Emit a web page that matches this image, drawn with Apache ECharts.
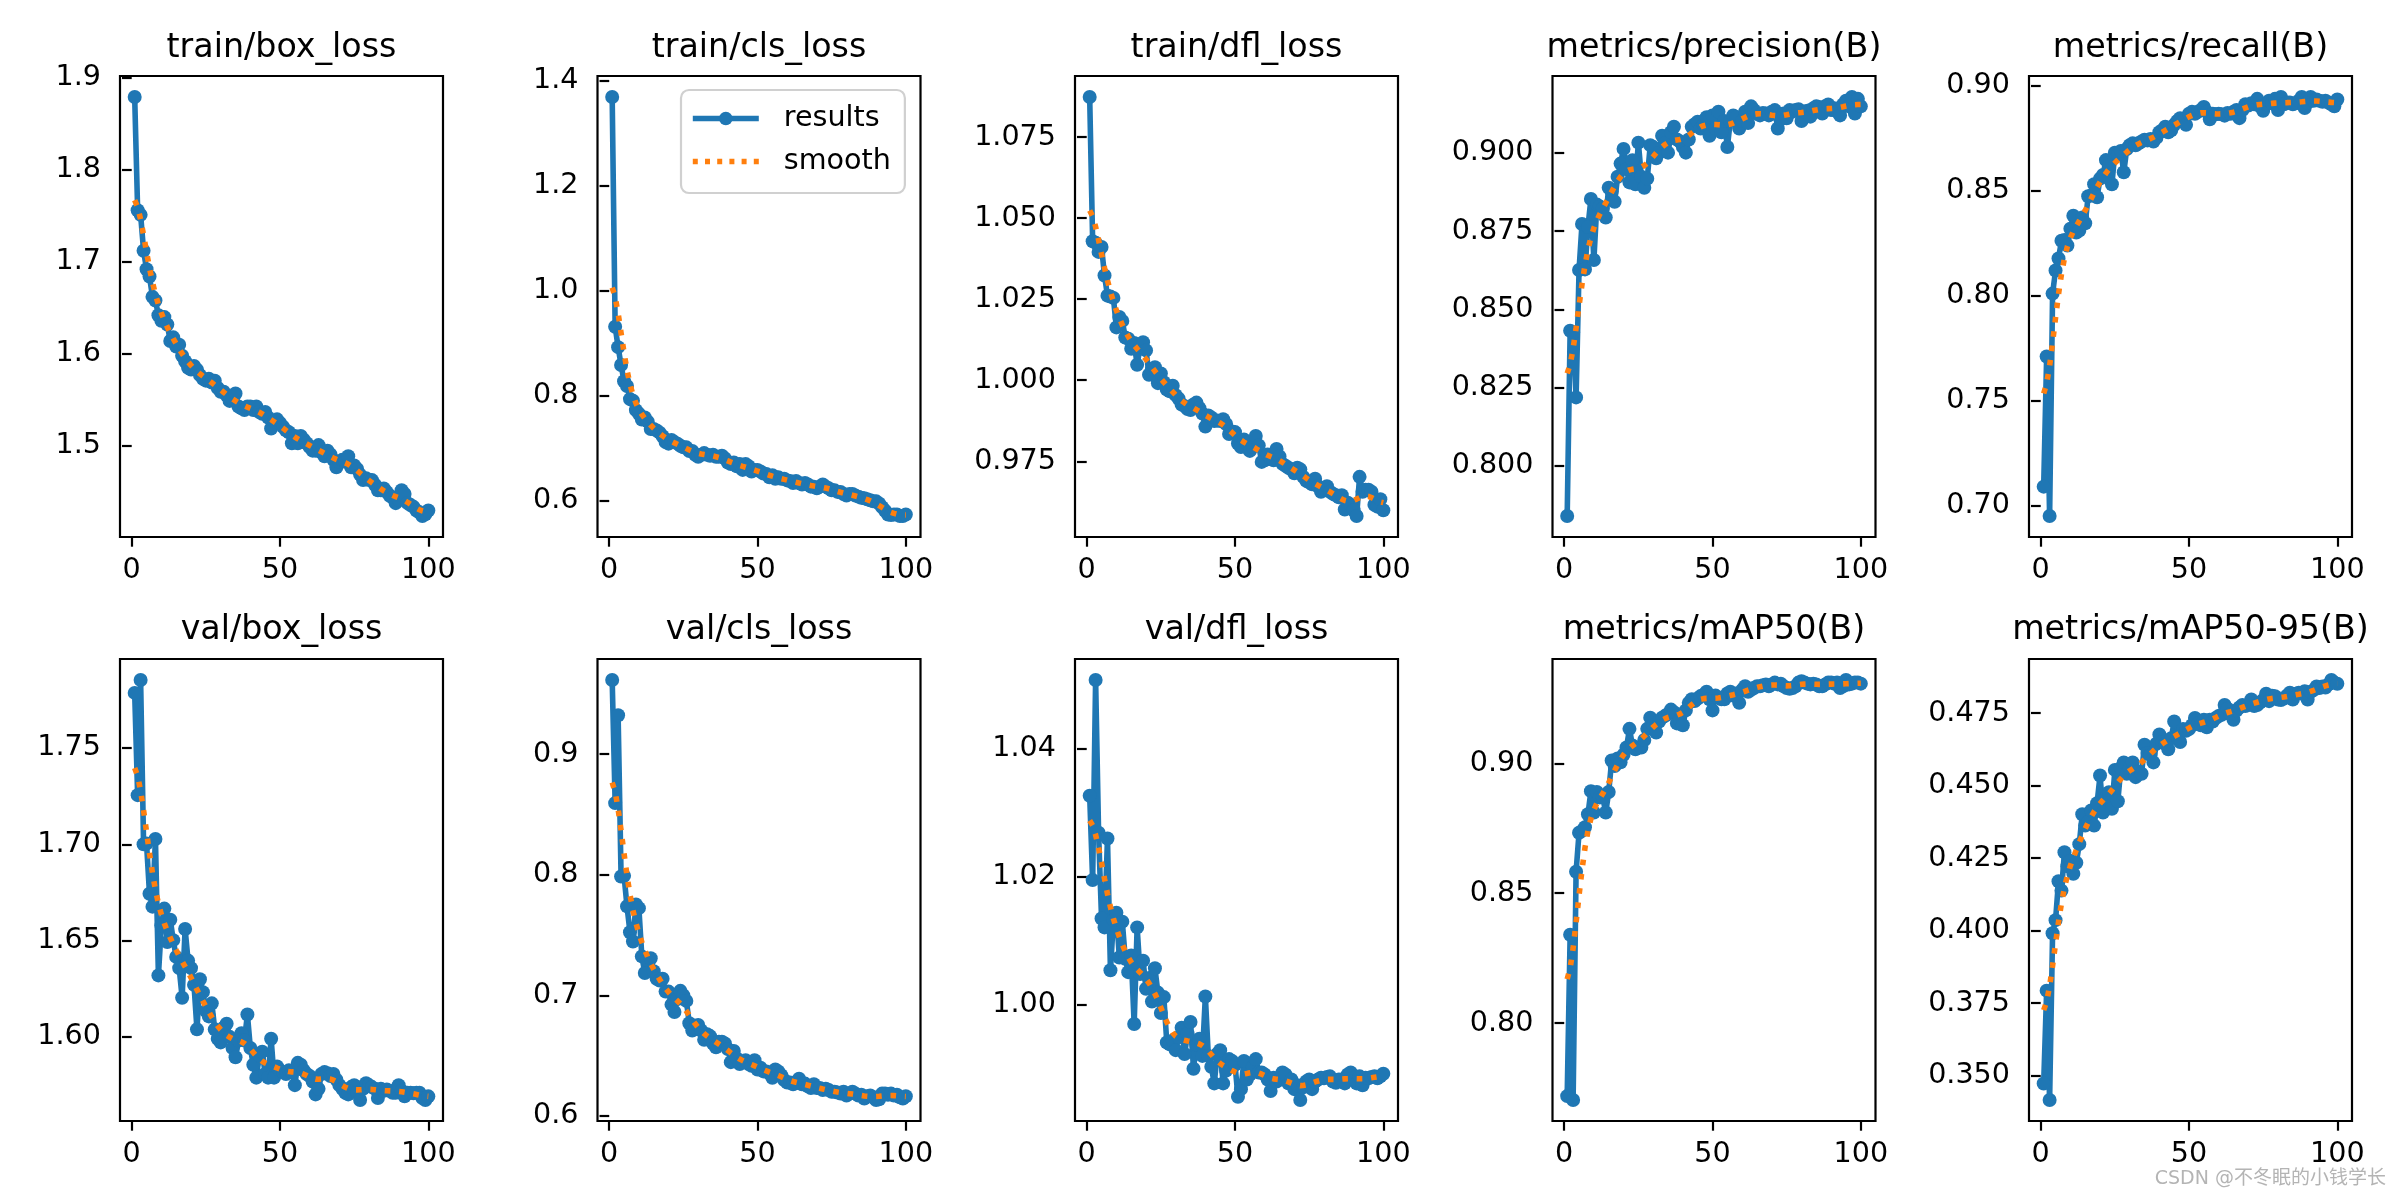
<!DOCTYPE html>
<html><head><meta charset="utf-8">
<script src="https://cdn.jsdelivr.net/npm/echarts@6/dist/echarts.min.js"></script>
<style>html,body{margin:0;padding:0;background:#fff}#c{width:2400px;height:1200px}</style>
</head><body><div id="c"></div>
<script>
// ---------- titles ----------
const titles = ['train/box_loss','train/cls_loss','train/dfl_loss','metrics/precision(B)','metrics/recall(B)',
                'val/box_loss','val/cls_loss','val/dfl_loss','metrics/mAP50(B)','metrics/mAP50-95(B)'];

// ---------- series values (epochs 1..100) ----------
const trainBox = [1.879,1.756,1.751,1.712,1.692,1.684,1.662,1.658,1.642,1.636,1.640,1.632,1.614,1.618,1.608,1.610,1.598,1.592,1.585,1.583,
1.587,1.583,1.577,1.573,1.571,1.573,1.569,1.571,1.563,1.559,1.559,1.555,1.549,1.551,1.557,1.543,1.541,1.539,1.543,1.543,
1.539,1.543,1.537,1.535,1.537,1.531,1.519,1.527,1.529,1.525,1.521,1.517,1.515,1.503,1.511,1.503,1.511,1.507,1.503,1.499,
1.495,1.495,1.501,1.493,1.489,1.495,1.491,1.485,1.477,1.483,1.485,1.483,1.489,1.477,1.479,1.475,1.469,1.463,1.465,1.463,
1.463,1.458,1.452,1.452,1.454,1.450,1.446,1.444,1.438,1.442,1.452,1.448,1.438,1.436,1.434,1.430,1.428,1.424,1.426,1.430];

const trainCls = [1.369,0.931,0.892,0.858,0.827,0.818,0.793,0.790,0.772,0.765,0.754,0.758,0.750,0.736,0.736,0.733,0.729,0.722,0.711,0.708,
0.715,0.711,0.708,0.704,0.701,0.701,0.694,0.694,0.687,0.683,0.687,0.690,0.687,0.685,0.687,0.683,0.683,0.685,0.680,0.672,
0.669,0.672,0.665,0.669,0.658,0.669,0.665,0.655,0.658,0.658,0.655,0.651,0.650,0.644,0.648,0.641,0.644,0.641,0.641,0.638,
0.637,0.633,0.637,0.633,0.630,0.633,0.630,0.626,0.626,0.623,0.626,0.630,0.626,0.623,0.619,0.619,0.616,0.616,0.612,0.609,
0.612,0.612,0.609,0.607,0.605,0.604,0.602,0.600,0.598,0.598,0.594,0.587,0.580,0.573,0.572,0.573,0.573,0.570,0.570,0.573];

const trainDfl = [1.0874,1.0429,1.0424,1.0396,1.0411,1.0323,1.0261,1.0258,1.0254,1.0163,1.0195,1.0183,1.0132,1.0128,1.0097,1.0115,1.0048,1.0103,1.0117,1.0092,
1.0017,1.0034,1.0040,0.9991,1.0021,0.9994,0.9971,0.9966,0.9983,0.9954,0.9943,0.9925,0.9920,0.9911,0.9908,0.9925,0.9931,0.9914,0.9897,0.9857,
0.9891,0.9885,0.9874,0.9876,0.9874,0.9880,0.9865,0.9834,0.9842,0.9840,0.9805,0.9794,0.9817,0.9805,0.9782,0.9794,0.9828,0.9799,0.9748,0.9753,
0.9771,0.9759,0.9753,0.9788,0.9765,0.9742,0.9736,0.9730,0.9725,0.9713,0.9730,0.9725,0.9702,0.9690,0.9685,0.9679,0.9696,0.9673,0.9656,0.9667,
0.9673,0.9656,0.9650,0.9645,0.9639,0.9645,0.9601,0.9622,0.9616,0.9599,0.9581,0.9702,0.9656,0.9662,0.9662,0.9656,0.9616,0.9610,0.9633,0.9599];

const precision = [0.7840,0.8432,0.8427,0.8219,0.8626,0.8773,0.8628,0.8764,0.8853,0.8658,0.8835,0.8829,0.8823,0.8794,0.8889,0.8877,0.8844,0.8924,0.8966,0.9013,
0.8948,0.8906,0.8977,0.8900,0.9033,0.8924,0.8889,0.8918,0.9025,0.9019,0.8983,0.9001,0.9055,0.9031,0.9001,0.9066,0.9084,0.9043,0.9037,0.9019,
0.9001,0.9043,0.9084,0.9092,0.9100,0.9078,0.9090,0.9114,0.9055,0.9120,0.9078,0.9132,0.9066,0.9102,0.9019,0.9102,0.9120,0.9114,0.9078,0.9102,
0.9132,0.9096,0.9149,0.9137,0.9126,0.9120,0.9128,0.9126,0.9120,0.9132,0.9137,0.9078,0.9108,0.9126,0.9111,0.9137,0.9132,0.9137,0.9140,0.9102,
0.9132,0.9135,0.9116,0.9143,0.9149,0.9147,0.9126,0.9149,0.9155,0.9137,0.9143,0.9132,0.9120,0.9155,0.9167,0.9149,0.9179,0.9126,0.9173,0.9149];

const recall = [0.709,0.771,0.695,0.801,0.812,0.8177,0.8262,0.8265,0.8239,0.8319,0.8381,0.8301,0.8310,0.8372,0.8345,0.8474,0.8478,0.8531,0.8469,0.8558,
0.8575,0.8646,0.8619,0.8531,0.8681,0.8673,0.8690,0.8588,0.8699,0.8717,0.8726,0.8717,0.8726,0.8735,0.8743,0.8740,0.8747,0.8735,0.8752,0.8779,
0.8788,0.8805,0.8779,0.8788,0.8814,0.8832,0.8846,0.8832,0.8814,0.8867,0.8876,0.8867,0.8876,0.8885,0.8899,0.8876,0.8841,0.8867,0.8864,0.8867,
0.8864,0.8858,0.8871,0.8867,0.8876,0.8885,0.8846,0.8885,0.8912,0.8906,0.8917,0.8912,0.8938,0.8903,0.8881,0.8912,0.8929,0.8917,0.8938,0.8885,
0.8947,0.8912,0.8920,0.8920,0.8912,0.8917,0.8929,0.8947,0.8894,0.8920,0.8947,0.8929,0.8935,0.8929,0.8924,0.8929,0.8920,0.8912,0.8903,0.8935];

const valBox = [1.7786,1.7255,1.7853,1.7000,1.7004,1.6743,1.6676,1.7027,1.6319,1.6579,1.6666,1.6492,1.6608,1.6502,1.6415,1.6357,1.6203,1.6560,1.6396,1.6357,
1.6270,1.6039,1.6299,1.6232,1.6135,1.6106,1.6174,1.6039,1.5990,1.5971,1.6048,1.6068,1.6000,1.5942,1.5894,1.5981,1.6019,1.5981,1.6116,1.5942,
1.5855,1.5788,1.5903,1.5923,1.5807,1.5788,1.5990,1.5788,1.5846,1.5826,1.5817,1.5807,1.5826,1.5817,1.5749,1.5865,1.5855,1.5826,1.5807,1.5797,
1.5768,1.5701,1.5730,1.5807,1.5817,1.5811,1.5797,1.5807,1.5778,1.5749,1.5730,1.5710,1.5701,1.5739,1.5749,1.5710,1.5672,1.5730,1.5759,1.5749,
1.5739,1.5730,1.5682,1.5730,1.5720,1.5726,1.5720,1.5710,1.5710,1.5749,1.5720,1.5691,1.5710,1.5710,1.5707,1.5710,1.5710,1.5682,1.5672,1.5691];

const valCls = [0.9615,0.8594,0.9323,0.7985,0.7991,0.7738,0.7523,0.7446,0.7754,0.7723,0.7323,0.7185,0.7292,0.7308,0.7200,0.7138,0.7123,0.7138,0.7031,0.7031,
0.6923,0.6862,0.6969,0.7037,0.7000,0.6954,0.6769,0.6708,0.6723,0.6754,0.6708,0.6631,0.6677,0.6662,0.6600,0.6569,0.6615,0.6615,0.6600,0.6554,
0.6446,0.6538,0.6477,0.6431,0.6446,0.6462,0.6431,0.6415,0.6462,0.6385,0.6400,0.6369,0.6369,0.6354,0.6317,0.6385,0.6369,0.6338,0.6298,0.6277,
0.6277,0.6262,0.6277,0.6308,0.6262,0.6268,0.6246,0.6231,0.6262,0.6231,0.6231,0.6215,0.6225,0.6215,0.6200,0.6200,0.6194,0.6185,0.6200,0.6169,
0.6185,0.6200,0.6185,0.6169,0.6175,0.6145,0.6163,0.6169,0.6154,0.6132,0.6138,0.6185,0.6185,0.6175,0.6185,0.6169,0.6175,0.6154,0.6145,0.6163];

const valDfl = [1.0327,1.0195,1.0508,1.0269,1.0135,1.0121,1.0260,1.0054,1.0133,1.0144,1.0074,1.0130,1.0072,1.0051,1.0077,0.9970,1.0121,1.0048,1.0069,1.0025,
1.0042,1.0005,1.0057,1.0019,0.9987,1.0012,0.9941,0.9938,0.9944,0.9929,0.9949,0.9964,0.9923,0.9955,0.9973,0.9900,0.9938,0.9947,0.9920,1.0013,
0.9920,0.9903,0.9877,0.9923,0.9929,0.9877,0.9897,0.9915,0.9912,0.9906,0.9856,0.9868,0.9912,0.9883,0.9891,0.9903,0.9915,0.9894,0.9894,0.9891,
0.9883,0.9865,0.9886,0.9880,0.9883,0.9894,0.9891,0.9877,0.9883,0.9868,0.9874,0.9851,0.9871,0.9880,0.9883,0.9868,0.9880,0.9883,0.9886,0.9885,
0.9887,0.9888,0.9880,0.9878,0.9883,0.9883,0.9877,0.9891,0.9894,0.9886,0.9877,0.9888,0.9874,0.9886,0.9885,0.9887,0.9888,0.9885,0.9888,0.9892];

const map50 = [0.7719,0.8340,0.7704,0.8583,0.8733,0.8740,0.8754,0.8804,0.8893,0.8811,0.8890,0.8869,0.8869,0.8811,0.8890,0.9011,0.8990,0.9019,0.9004,0.9033,
0.9061,0.9133,0.9069,0.9054,0.9061,0.9061,0.9090,0.9133,0.9176,0.9147,0.9119,0.9161,0.9176,0.9183,0.9190,0.9207,0.9197,0.9154,0.9169,0.9147,
0.9204,0.9233,0.9247,0.9240,0.9250,0.9259,0.9264,0.9276,0.9247,0.9204,0.9261,0.9254,0.9247,0.9247,0.9269,0.9276,0.9261,0.9269,0.9233,0.9283,
0.9297,0.9276,0.9283,0.9290,0.9297,0.9297,0.9301,0.9304,0.9297,0.9304,0.9311,0.9304,0.9307,0.9297,0.9290,0.9287,0.9290,0.9297,0.9311,0.9316,
0.9311,0.9307,0.9304,0.9307,0.9304,0.9297,0.9297,0.9304,0.9311,0.9311,0.9307,0.9311,0.9290,0.9297,0.9321,0.9304,0.9307,0.9311,0.9311,0.9307];

const map5095 = [0.3473,0.3793,0.3416,0.3991,0.4036,0.4170,0.4138,0.4270,0.4222,0.4241,0.4196,0.4234,0.4298,0.4401,0.4362,0.4375,0.4414,0.4362,0.4439,0.4535,
0.4407,0.4458,0.4477,0.4420,0.4554,0.4446,0.4561,0.4580,0.4541,0.4561,0.4580,0.4529,0.4548,0.4541,0.4641,0.4612,0.4605,0.4580,0.4644,0.4676,
0.4650,0.4644,0.4625,0.4663,0.4721,0.4669,0.4650,0.4695,0.4689,0.4695,0.4708,0.4733,0.4714,0.4708,0.4727,0.4701,0.4727,0.4721,0.4733,0.4740,
0.4744,0.4778,0.4765,0.4746,0.4727,0.4759,0.4769,0.4778,0.4774,0.4778,0.4797,0.4774,0.4778,0.4787,0.4795,0.4817,0.4791,0.4810,0.4808,0.4797,
0.4795,0.4800,0.4810,0.4820,0.4797,0.4817,0.4820,0.4817,0.4825,0.4797,0.4823,0.4829,0.4842,0.4836,0.4842,0.4838,0.4849,0.4864,0.4855,0.4851];

// ---------- tick labels ----------
const xTicks = [0, 50, 100];
const yTicks = [
  ['1.5','1.6','1.7','1.8','1.9'],
  ['0.6','0.8','1.0','1.2','1.4'],
  ['0.975','1.000','1.025','1.050','1.075'],
  ['0.800','0.825','0.850','0.875','0.900'],
  ['0.70','0.75','0.80','0.85','0.90'],
  ['1.60','1.65','1.70','1.75'],
  ['0.6','0.7','0.8','0.9'],
  ['1.00','1.02','1.04'],
  ['0.80','0.85','0.90'],
  ['0.350','0.375','0.400','0.425','0.450','0.475']
];
const allSeries = [trainBox, trainCls, trainDfl, precision, recall, valBox, valCls, valDfl, map50, map5095];

// ultralytics-style smoothing of the results: gaussian_filter1d(y, sigma=3), mode 'reflect'
function gaussSmooth(y, sigma) {
  const r = Math.floor(4 * sigma + 0.5), n = y.length, w = [];
  let s = 0;
  for (let k = -r; k <= r; k++) { const v = Math.exp(-0.5 * k * k / (sigma * sigma)); w.push(v); s += v; }
  const out = [];
  for (let i = 0; i < n; i++) {
    let acc = 0;
    for (let k = -r; k <= r; k++) {
      let j = i + k;
      while (j < 0 || j >= n) { if (j < 0) j = -j - 1; if (j >= n) j = 2 * n - j - 1; }
      acc += w[k + r] * y[j];
    }
    out.push(acc / s);
  }
  return out;
}

// ---------- layout ----------
const FONT = 'DejaVu Sans';
const TICK_FS = 28.6;
const colLeft = [120, 597.5, 1075, 1552.5, 2029];
const rowTop = [76, 659];
const gw = 323, ghs = [461, 462];
const titleY = [48, 630];
const BLUE = '#1f77b4', ORANGE = '#ff7f0e';

const grids = [], xAxes = [], yAxes = [], series = [], graphics = [];
allSeries.forEach((vals, i) => {
  const r = Math.floor(i / 5), c = i % 5;
  grids.push({ left: colLeft[c], top: rowTop[r], width: gw, height: ghs[r], show: true,
    borderColor: '#000', borderWidth: 2.2, backgroundColor: 'transparent', containLabel: false });
  const sm = gaussSmooth(vals, 3);
  const lo = Math.min(...vals, ...sm), hi = Math.max(...vals, ...sm), pad = (hi - lo) * 0.05;
  const dec = yTicks[i][0].split('.')[1].length;
  xAxes.push({ type: 'value', gridIndex: i, min: 1 - 4.95, max: 100 + 4.95,
    axisLine: { show: false }, splitLine: { show: false },
    axisTick: { show: true, length: 9.7, inside: false, customValues: xTicks, lineStyle: { color: '#000', width: 2.2 } },
    axisLabel: { show: true, customValues: xTicks, margin: 19, color: '#000', fontSize: TICK_FS, fontFamily: FONT } });
  yAxes.push({ type: 'value', gridIndex: i, min: lo - pad, max: hi + pad, scale: true,
    axisLine: { show: false }, splitLine: { show: false },
    axisTick: { show: true, length: 9.7, inside: false, customValues: yTicks[i].map(Number), lineStyle: { color: '#000', width: 2.2 } },
    axisLabel: { show: true, customValues: yTicks[i].map(Number), margin: 19, color: '#000', fontSize: TICK_FS, fontFamily: FONT,
      formatter: v => Number(v).toFixed(dec) } });
  series.push({ name: 'results', type: 'line', xAxisIndex: i, yAxisIndex: i,
    data: vals.map((v, k) => [k + 1, v]), symbol: 'circle', symbolSize: 14, showAllSymbol: true,
    lineStyle: { color: BLUE, width: 5.6 }, itemStyle: { color: BLUE }, z: 2, silent: true });
  series.push({ name: 'smooth', type: 'line', xAxisIndex: i, yAxisIndex: i,
    data: sm.map((v, k) => [k + 1, v]), symbol: 'none', showSymbol: false,
    lineStyle: { color: ORANGE, width: 5.6, type: [5.6, 8.8], cap: 'butt' }, itemStyle: { color: ORANGE }, z: 3, silent: true });
  graphics.push({ type: 'text', x: colLeft[c] + gw / 2, y: titleY[r],
    style: { text: titles[i], fill: '#000', fontSize: 33.3, fontFamily: FONT, textAlign: 'center', textVerticalAlign: 'middle', align: 'center', verticalAlign: 'middle' } });
});
graphics.push({ type: 'text', right: 14, top: 1170,
  style: { text: 'CSDN @不冬眠的小钱学长', fill: '#b4b4b4', fontSize: 19, fontFamily: 'DejaVu Sans, Noto Sans CJK SC' } });

const chart = echarts.init(document.getElementById('c'), null, { renderer: 'canvas' });
chart.setOption({
  animation: false,
  backgroundColor: '#fff',
  grid: grids, xAxis: xAxes, yAxis: yAxes, series: series, graphic: graphics,
  legend: {
    data: [
      { name: 'results', lineStyle: { color: BLUE, width: 5.6 }, itemStyle: { color: BLUE } },
      { name: 'smooth', lineStyle: { color: ORANGE, width: 5.6, type: [5, 7.2], cap: 'butt' }, itemStyle: { color: ORANGE, opacity: 0 } }
    ],
    orient: 'vertical', left: 681, top: 90,
    backgroundColor: 'rgba(255,255,255,0.8)', borderColor: '#d0d0d0', borderWidth: 2.2, borderRadius: 8,
    padding: [14, 14, 17, 9], itemWidth: 66, itemHeight: 17, itemGap: 14,
    textStyle: { color: '#000', fontSize: TICK_FS, fontFamily: FONT, padding: [0, 0, 0, 20] },
    selectedMode: false
  }
});
</script></body></html>
